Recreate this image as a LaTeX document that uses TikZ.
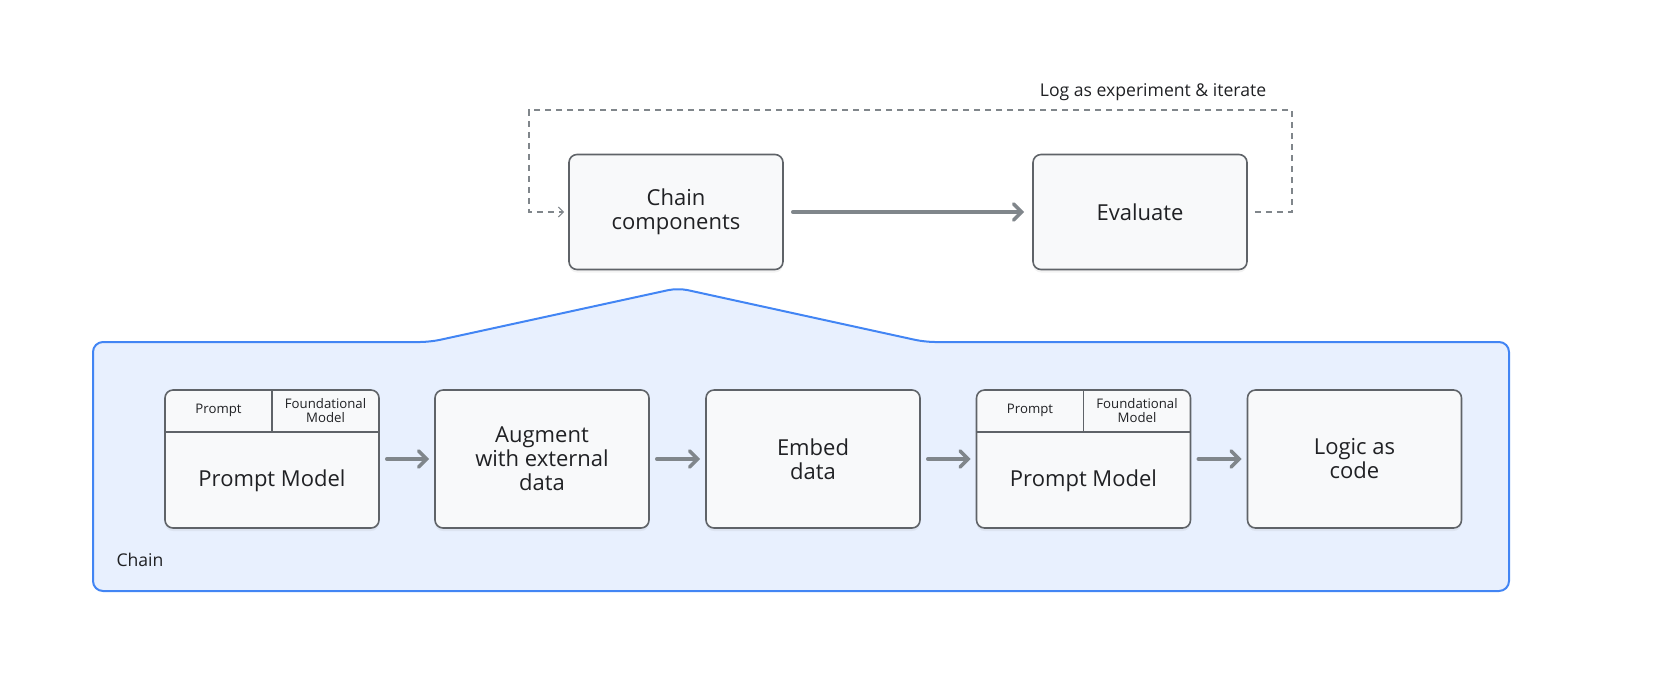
\documentclass[tikz,border=0pt]{standalone}
\usepackage{fontspec}
\setmainfont{Open Sans}
\usetikzlibrary{arrows.meta, shadows, positioning}

\definecolor{boxfill}{HTML}{F8F9FA}
\definecolor{boxline}{HTML}{5F6368}
\definecolor{textdark}{HTML}{202124}
\definecolor{arrowgray}{HTML}{80868B}
\definecolor{chainfill}{HTML}{E8F0FE}
\definecolor{chainline}{HTML}{4285F4}

\begin{document}
\begin{tikzpicture}[
		x=0.5pt, y=-0.5pt,
		stage/.style ={
			rectangle,	rounded corners=4pt,	draw=boxline,	fill=boxfill,
			line width=0.8pt,	inner sep=0pt,	minimum width=107pt,	minimum height=69pt,
			align=center,	text=textdark,	font=\fontsize{11}{12}\selectfont,
			drop shadow={opacity=0.10, shadow xshift=0pt, shadow yshift=-1.5pt}
		},
		divider/.style ={
			draw=boxline,	line width=0.8pt
		},
		tag/.style ={
			align=center,	text=textdark,	font=\fontsize{6.6}{7}\selectfont
		},
		note/.style ={
			text=textdark,	font=\fontsize{8.8}{10}\selectfont
		},
		flow/.style ={
			draw=arrowgray,	line width=1.8pt,	line cap=round,
			-{Straight Barb[length=4pt, width=8pt, line cap=round]}
		},
		loopback/.style ={
			draw=arrowgray,	line width=0.6pt,	dash pattern=on 3pt off 2.5pt,
			-{Straight Barb[length=2.5pt, width=5pt]}
		},
		chainarea/.style ={
			draw=chainline,	fill=chainfill,	line width=1pt,	rounded corners=5pt
		},
	]
	\useasboundingbox (0,0) rectangle (1668,698);

	\newcommand{\ltop}{212}
	\newcommand{\lrow}{459}

	% chain area
	\draw [chainarea] (93,591) -- (93,342) -- (430,342) -- (678,288)
		-- (925,342) -- (1509,342) -- (1509,591) -- cycle;
	\node (chainlabel) at (140,560) [note] {Chain};

	% nodes
	\node (chaincomp) at (676,\ltop) [stage, minimum height=57.5pt] {Chain\\components};
	\node (evaluate) at (1140,\ltop) [stage, minimum height=57.5pt] {Evaluate};

	\node (pm1)     at (272,\lrow)    [stage] {};
	\node (augment) at (542,\lrow)    [stage] {Augment\\with external\\data};
	\node (embed)   at (813,\lrow)    [stage] {Embed\\data};
	\node (pm2)     at (1083.5,\lrow) [stage] {};
	\node (logic)   at (1354.5,\lrow) [stage] {Logic as\\code};

	\foreach \p in {pm1, pm2} {
		\draw [divider] ([yshift=-21.5pt]\p.north west) -- ([yshift=-21.5pt]\p.north east);
		\draw [divider] (\p.north) -- ([yshift=-21.5pt]\p.north);
		\node (\p-prompt) at ([xshift=-26.75pt, yshift=-10.75pt]\p.north) [tag] {Prompt};
		\node (\p-model)  at ([xshift= 26.75pt, yshift=-10.75pt]\p.north) [tag] {Foundational\\Model};
		\node (\p-label)  at ([yshift=-10.75pt]\p.center) [text=textdark, font=\fontsize{11}{12}\selectfont] {Prompt Model};
	}

	% interconnections
	\draw [flow, shorten <=4.5pt, shorten >=4pt] (chaincomp) -- (evaluate);

	\foreach \a/\b in {pm1/augment, augment/embed, embed/pm2, pm2/logic}%
		\draw [flow, shorten <=3.5pt, shorten >=2.5pt] (\a) -- (\b);

	\coordinate (loopR) at (1292,110);
	\coordinate (loopL) at (529,110);
	\draw [loopback, shorten <=3.5pt, shorten >=2pt]
		(evaluate.east) -| (loopR) -- (loopL) |- (chaincomp.west);
	\node (looplabel) at (1153,92) [note] {Log as experiment \& iterate};

\end{tikzpicture}
\end{document}
